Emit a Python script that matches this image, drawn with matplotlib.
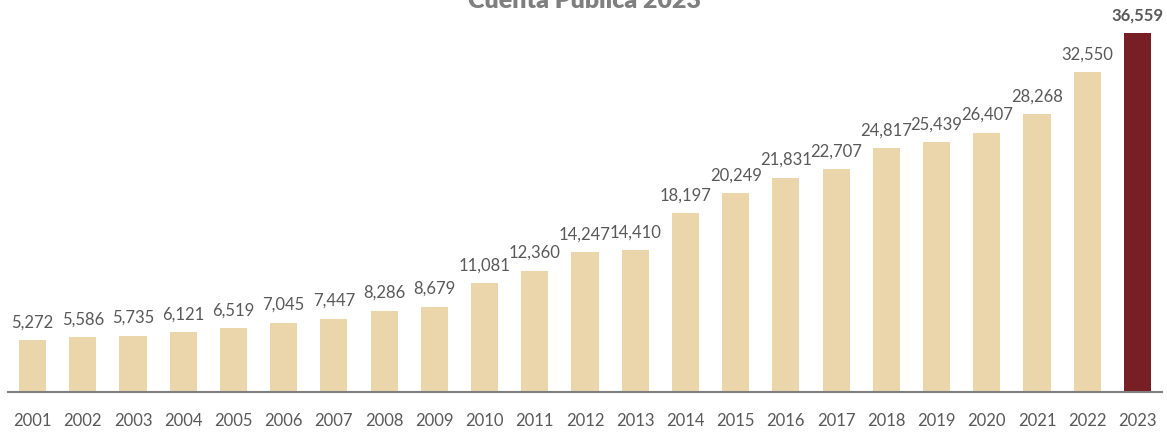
import matplotlib.pyplot as plt

years = [str(y) for y in range(2001, 2024)]
values = [5272, 5586, 5735, 6121, 6519, 7045, 7447, 8286, 8679, 11081, 12360,
          14247, 14410, 18197, 20249, 21831, 22707, 24817, 25439, 26407, 28268,
          32550, 36559]

plt.rcParams['font.family'] = ['Lato', 'DejaVu Sans']

fig = plt.figure(figsize=(11.67, 4.33), dpi=100)
ax = fig.add_axes([8 / 1167, 41 / 433, 1154 / 1167, 392 / 433])

colors = ['#EBD5AB'] * (len(values) - 1) + ['#781E25']
x = range(len(values))
bars = ax.bar(x, values, width=0.54, color=colors)

for i, (b, v) in enumerate(zip(bars, values)):
    last = i == len(values) - 1
    ax.annotate(f'{v:,}', (b.get_x() + b.get_width() / 2, v),
                xytext=(0, 7), textcoords='offset points', ha='center', va='bottom',
                fontsize=12, color='#595959', fontweight='bold' if last else 'normal')

ax.set_xlim(-0.49, len(values) - 0.51)
ax.set_ylim(0, 39900)
ax.set_xticks(list(x))
ax.set_xticklabels(years, fontsize=12, color='#595959')
ax.tick_params(axis='x', length=0, pad=15)
ax.set_yticks([])
for s in ['top', 'right', 'left']:
    ax.spines[s].set_visible(False)
ax.spines['bottom'].set_color('#7F7F7F')
ax.spines['bottom'].set_linewidth(1.5)

fig.text(0.501, 1 - 8 / 433, 'Cuenta Pública 2023', ha='center', va='baseline',
         fontsize=18, fontweight='heavy', color='#7F7F7F')

fig.savefig('out.png', dpi=100)
